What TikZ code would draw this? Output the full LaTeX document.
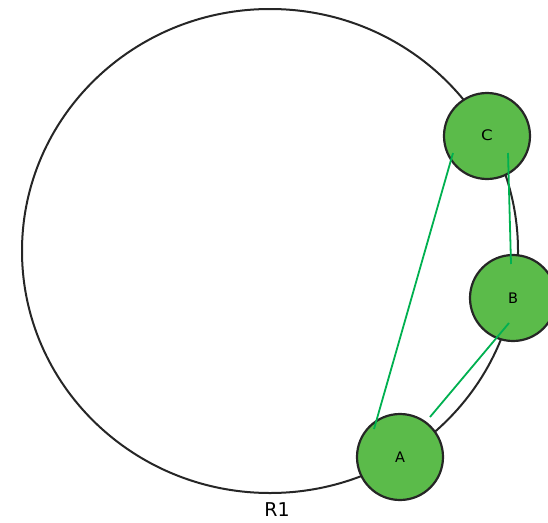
\documentclass[tikz,border=0pt]{standalone}
\usepackage{fontspec}
\setmainfont{DejaVu Sans}
\usetikzlibrary{calc}
\definecolor{nodegreen}{HTML}{5BBB4A}
\definecolor{edgegreen}{HTML}{00B050}
\definecolor{ringgray}{HTML}{262626}
\begin{document}
\begin{tikzpicture}[x=1pt,y=-1pt,
  ring/.style={draw=ringgray,line width=2pt},
  peer/.style={circle,draw=ringgray,line width=2.2pt,fill=nodegreen,minimum size=86pt,inner sep=0pt,font=\fontsize{14.5}{16}\selectfont},
  link/.style={draw=edgegreen,line width=1.8pt}]
\useasboundingbox (0,0) rectangle (548,522);
\draw[ring] (270,251) ellipse [x radius=248, y radius=242];
\node[peer] (C) at (487,136) {\raisebox{2pt}{\scalebox{1.15}[1]{C}}};
\node[peer] (B) at (513,298) {\raisebox{-3pt}{B}};
\node[peer] (A) at (400,457) {\raisebox{-3pt}{A}};
\node[font=\fontsize{19}{21}\selectfont] (R1) at (277,510) {R1};
\coordinate (c1) at ($(C)+(-34,17)$);
\coordinate (c2) at ($(C)+(21,17)$);
\coordinate (b1) at ($(B)+(-2,-34)$);
\coordinate (b2) at ($(B)+(-4,25)$);
\coordinate (a1) at ($(A)+(-26,-28)$);
\coordinate (a2) at ($(A)+(30,-40)$);
\draw[link] (c1) -- (a1);
\draw[link] (c2) -- (b1);
\draw[link] (b2) -- (a2);
\end{tikzpicture}
\end{document}
